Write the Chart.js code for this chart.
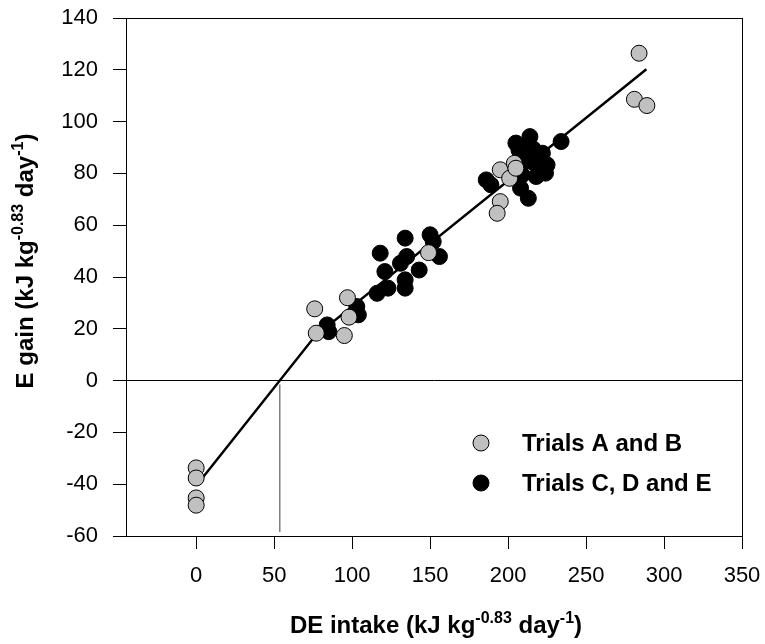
<!DOCTYPE html>
<html>
<head>
<meta charset="utf-8">
<script src="https://cdn.jsdelivr.net/npm/chart.js@4/dist/chart.umd.min.js"></script>
<style>
html,body{margin:0;padding:0;background:#fff;}
canvas{display:block;}
</style>
</head>
<body>
<canvas id="c" width="765" height="644"></canvas>
<script>
// ---- data ----
const seriesNames = ["Trials A and B", "Trials C, D and E"];
const grayX = [0, 0, 0, 0, 76, 77, 97, 98, 95, 149, 195, 201, 204, 205, 195, 193, 284, 281, 289];
const grayY = [-33.7, -37.6, -45.3, -48.1, 27.7, 18.3, 32.0, 24.5, 17.4, 49.4, 81.4, 78.1, 83.9, 82.0, 69.1, 64.6, 126.4, 108.6, 106.2];
const blackX = [84, 85, 103, 104, 116, 118, 121, 123, 134, 135, 131, 134, 134, 143, 150, 152, 156,
                186, 189, 205, 214, 208, 213, 222, 224, 218, 234, 217, 225, 207, 209, 211, 216, 220, 213, 209];
const blackY = [21.5, 18.9, 28.6, 25.4, 33.7, 49.2, 42.1, 35.7, 55.0, 47.9, 45.3, 38.9, 35.7, 42.7, 56.3, 53.7, 47.9,
                77.5, 75.6, 91.7, 94.2, 74.3, 70.4, 87.8, 80.1, 78.8, 92.3, 83.9, 83.3, 89.0, 79.4, 86.5, 89.5, 85.5, 91.0, 84.0];
const fitX = [4.5, 76, 288.7];
const fitY = [-37.2, 17.0, 120.2];
const thresholdX = [53.6, 53.6];
const thresholdY = [-1.5, -58.5];
const xTicks = [0, 50, 100, 150, 200, 250, 300, 350];
const xMin = -45, xMax = 350, yMin = -60, yMax = 140, yStep = 20;
const xTitle = [{t:"DE intake (kJ kg"},{t:"-0.83",s:1},{t:" day"},{t:"-1",s:1},{t:")"}];
const yTitle = [{t:"E gain (kJ kg"},{t:"-0.83",s:1},{t:" day"},{t:"-1",s:1},{t:")"}];

const pts = (xs, ys) => xs.map((x, i) => ({x: x, y: ys[i]}));
const FONT = "'Liberation Sans', Arial, sans-serif";

function richWidth(ctx, parts, main, sup){
  let w = 0;
  parts.forEach(p => { ctx.font = p.s ? sup : main; w += ctx.measureText(p.t).width; });
  return w;
}
function drawRich(ctx, parts, x, y, main, sup, rise){
  const w = richWidth(ctx, parts, main, sup);
  let cx = x - w/2;
  ctx.textAlign = 'left';
  ctx.textBaseline = 'alphabetic';
  parts.forEach(p => {
    ctx.font = p.s ? sup : main;
    ctx.fillText(p.t, cx, p.s ? y - rise : y);
    cx += ctx.measureText(p.t).width;
  });
}

const decor = {
  id: 'decor',
  afterDraw(chart){
    const ctx = chart.ctx, a = chart.chartArea;
    ctx.save();
    // frame
    ctx.strokeStyle = '#000'; ctx.lineWidth = 1;
    ctx.strokeRect(a.left + 0.5, a.top + 0.5, a.right - a.left, a.bottom - a.top);
    ctx.fillStyle = '#000';
    const main = "bold 24px " + FONT, sup = "bold 16px " + FONT;
    // x title
    drawRich(ctx, xTitle, (a.left + a.right)/2 + 2, 633, main, sup, 10);
    // y title
    ctx.save();
    ctx.translate(33, (a.top + a.bottom)/2 - 16);
    ctx.rotate(-Math.PI/2);
    drawRich(ctx, yTitle, 0, 0, main, sup, 10);
    ctx.restore();
    // legend
    const lx = 481, ly = [443, 483];
    const ds = chart.data.datasets;
    [0, 1].forEach(i => {
      ctx.beginPath();
      ctx.arc(lx, ly[i], 8, 0, Math.PI*2);
      ctx.fillStyle = ds[i].backgroundColor;
      ctx.fill();
      ctx.lineWidth = 1; ctx.strokeStyle = '#000';
      ctx.stroke();
      ctx.fillStyle = '#000';
      ctx.font = main;
      ctx.textAlign = 'left'; ctx.textBaseline = 'middle';
      ctx.fillText(ds[i].label, 522, ly[i] + 1);
    });
    ctx.restore();
  }
};

new Chart(document.getElementById('c'), {
  type: 'scatter',
  data: {
    datasets: [
      { label: seriesNames[0], data: pts(grayX, grayY), backgroundColor: '#c0c0c0', borderColor: '#000',
        borderWidth: 1, pointRadius: 8, pointHoverRadius: 8 },
      { label: seriesNames[1], data: pts(blackX, blackY), backgroundColor: '#000', borderColor: '#000',
        borderWidth: 1, pointRadius: 8, pointHoverRadius: 8 },
      { label: 'fit', type: 'line', data: pts(fitX, fitY), borderColor: '#000', borderWidth: 2.5,
        pointRadius: 0, fill: false, tension: 0 },
      { label: 'threshold', type: 'line', data: pts(thresholdX, thresholdY), borderColor: '#808080', borderWidth: 1.5,
        pointRadius: 0, fill: false }
    ]
  },
  options: {
    responsive: false,
    animation: false,
    events: [],
    layout: { padding: { left: 0, right: 23, top: 18, bottom: 0 } },
    plugins: { legend: { display: false }, tooltip: { enabled: false } },
    scales: {
      x: {
        type: 'linear', min: xMin, max: xMax,
        afterBuildTicks: s => { s.ticks = xTicks.map(v => ({value: v})); },
        afterFit: s => { s.height = 108; s.paddingLeft = 0; s.paddingRight = 0; s.paddingTop = 0; s.paddingBottom = 0; },
        grid: { drawOnChartArea: false, tickLength: 13, tickColor: '#000', tickWidth: 1 },
        border: { display: true, color: '#000', width: 1 },
        ticks: { color: '#000', font: { family: FONT, size: 22 }, padding: 14, maxRotation: 0, autoSkip: false }
      },
      y: {
        type: 'linear', min: yMin, max: yMax,
        afterFit: s => { s.width = 126; s.paddingLeft = 0; s.paddingRight = 0; s.paddingTop = 0; s.paddingBottom = 0; },
        grid: { color: c => (c.tick && c.tick.value === 0) ? '#000' : 'rgba(0,0,0,0)', lineWidth: 1,
                tickLength: 13, tickColor: '#000', tickWidth: 1 },
        border: { display: true, color: '#000', width: 1 },
        ticks: { stepSize: yStep, color: '#000', font: { family: FONT, size: 22 }, padding: 15 }
      }
    }
  },
  plugins: [decor]
});
</script>
</body>
</html>
